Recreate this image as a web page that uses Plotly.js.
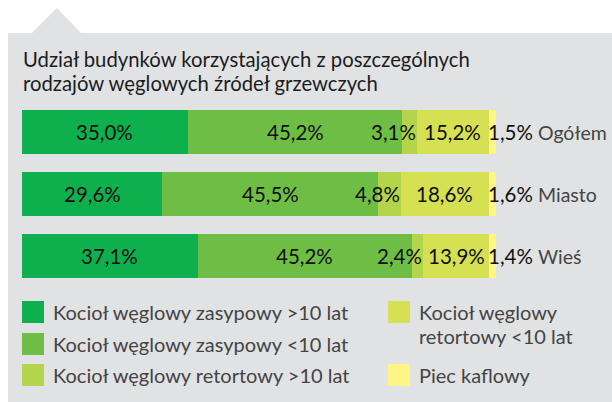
<!DOCTYPE html>
<html>
<head>
<meta charset="utf-8">
<script src="https://cdn.plot.ly/plotly-3.0.1.min.js"></script>
<style>
html,body{margin:0;padding:0;background:#ffffff;}
#chart{width:612px;height:402px;}
</style>
</head>
<body>
<div id="chart"></div>
<script>
// ---- data ----
const categories = ["Ogółem", "Miasto", "Wieś"];
const seriesNames = [
  "Kocioł węglowy zasypowy >10 lat",
  "Kocioł węglowy zasypowy <10 lat",
  "Kocioł węglowy retortowy >10 lat",
  "Kocioł węglowy<br>retortowy <10 lat",
  "Piec kaflowy"
];
const zasypowyOld = [35.0, 29.6, 37.1];
const zasypowyNew = [45.2, 45.5, 45.2];
const retortowyOld = [3.1, 4.8, 2.4];
const retortowyNew = [15.2, 18.6, 13.9];
const piecKaflowy = [1.5, 1.6, 1.4];
const titleLines = ["Udział budynków korzystających z poszczególnych", "rodzajów węglowych źródeł grzewczych"];

// ---- styles ----
const colors = ["#0db04c", "#6ebe46", "#b3d44b", "#d6e053", "#fff586"];
const series = [zasypowyOld, zasypowyNew, retortowyOld, retortowyNew, piecKaflowy];
const W = 612, H = 402;
const M = {l: 22, r: 116, t: 101, b: 115};
const PW = W - M.l - M.r, PH = H - M.t - M.b;
const px = x => (x - M.l) / PW;
const py = y => 1 - (y - M.t) / PH;
const FONT = "Lato, 'Open Sans', sans-serif";

function fmt(v) { return v.toFixed(1).replace(".", ",") + "%"; }

const traces = series.map((vals, i) => ({
  type: "bar",
  orientation: "h",
  name: seriesNames[i],
  y: categories,
  x: vals,
  marker: {color: colors[i], line: {width: 0}},
  hoverinfo: "skip",
  showlegend: false
}));

const annotations = [];
const shapes = [];

// background panel with notch
shapes.push({
  type: "path", xref: "paper", yref: "paper", layer: "below",
  path: `M ${px(8)} ${py(33)} L ${px(32)} ${py(33)} L ${px(57)} ${py(8)} L ${px(81)} ${py(33)} L ${px(612)} ${py(33)} L ${px(612)} ${py(402)} L ${px(8)} ${py(402)} Z`,
  fillcolor: "#e1e2e4", line: {width: 0}
});

// title
const TFS = 20.3;
titleLines.forEach((t, k) => {
  annotations.push({
    xref: "paper", yref: "paper", x: px(21), y: py(59 + 24 * k),
    xanchor: "left", yanchor: "middle",
    text: t, showarrow: false,
    font: {family: FONT, size: TFS, color: "#1c1c1c"}
  });
});

// bar value labels
categories.forEach((c, j) => {
  let cum = 0;
  series.forEach((vals, i) => {
    const v = vals[j];
    let x = cum + v / 2, anchor = "center";
    if (i === 2) { x = cum + v; anchor = "right"; }
    if (i === 4) { x = cum; anchor = "left"; }
    annotations.push({
      x: x, y: c, xref: "x", yref: "y",
      xanchor: anchor, yanchor: "middle",
      xshift: i === 4 ? -3 : (i === 2 ? 1 : 0),
      text: fmt(v), showarrow: false,
      font: {family: FONT, size: 20.5, color: "#111111"}
    });
    cum += v;
  });
  // category labels
  annotations.push({
    x: 1, y: c, xref: "paper", yref: "y",
    xanchor: "left", yanchor: "middle", xshift: 40,
    text: c, showarrow: false,
    font: {family: FONT, size: 19.5, color: "#454545"}
  });
});

// custom legend
const legendPos = [
  {x: 22, y: 301}, {x: 22, y: 333}, {x: 22, y: 364},
  {x: 388, y: 301}, {x: 388, y: 364}
];
legendPos.forEach((p, i) => {
  shapes.push({
    type: "rect", xref: "paper", yref: "paper",
    x0: px(p.x), x1: px(p.x + 22), y0: py(p.y), y1: py(p.y + 22),
    fillcolor: colors[i], line: {width: 0}
  });
  seriesNames[i].split("<br>").forEach((line, k) => {
    annotations.push({
      xref: "paper", yref: "paper", x: px(p.x + 29), y: py(p.y + 10.5 + 24 * k),
      xanchor: "left", yanchor: "middle", align: "left",
      text: line, showarrow: false,
      font: {family: FONT, size: 20, color: "#444444"}
    });
  });
});

const layout = {
  width: W, height: H,
  margin: M,
  paper_bgcolor: "#ffffff",
  plot_bgcolor: "rgba(0,0,0,0)",
  barmode: "stack",
  bargap: 0.3,
  showlegend: false,
  xaxis: {range: [0, 100], visible: false, fixedrange: true},
  yaxis: {categoryorder: "array", categoryarray: categories, range: [2.5, -0.5],
          visible: false, fixedrange: true},
  shapes: shapes,
  annotations: annotations
};

Plotly.newPlot("chart", traces, layout, {displayModeBar: false, staticPlot: true});
</script>
</body>
</html>
